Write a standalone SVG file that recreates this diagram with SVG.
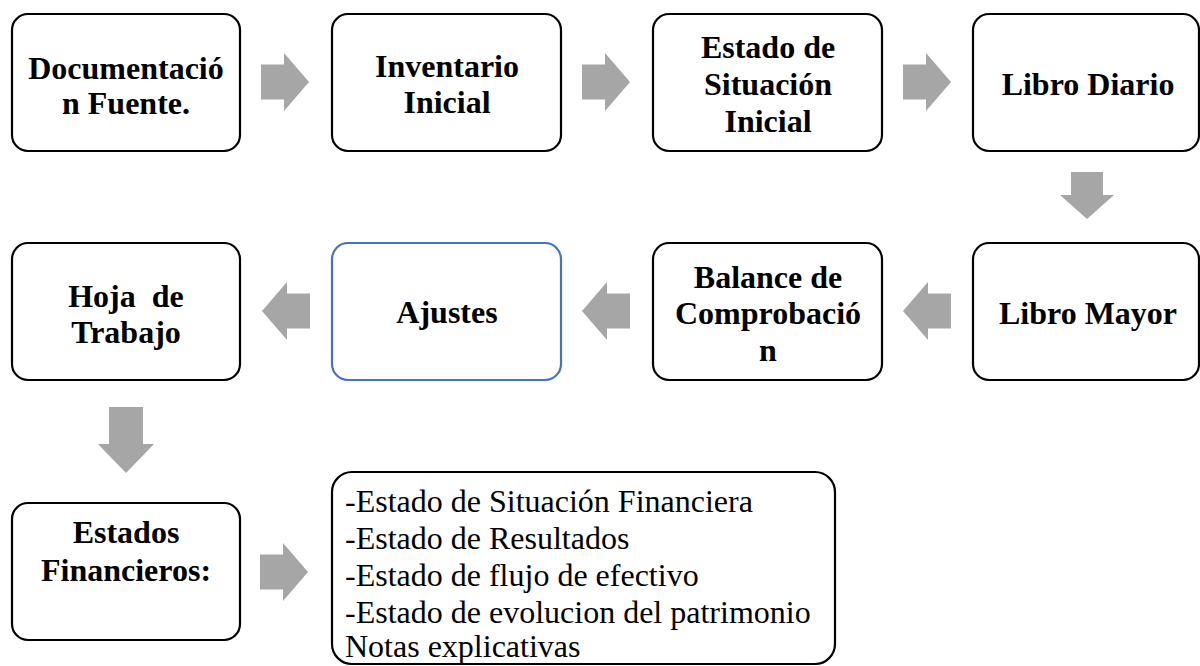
<svg xmlns="http://www.w3.org/2000/svg" width="1200" height="666" viewBox="0 0 1200 666">
<style>
.box{fill:#fff;stroke:#000;stroke-width:2.2}
.blue{fill:#fff;stroke:#4472c4;stroke-width:2.2}
.t{font-family:"Liberation Serif","Times New Roman",serif;font-weight:bold;font-size:32px;text-anchor:middle;fill:#000}
.l{font-family:"Liberation Serif","Times New Roman",serif;font-size:32px;fill:#000}
.arr{fill:#a6a6a6}
</style>
<defs>
<path id="ra" d="M-24,-17.5 H-1 V-29 L24,0 L-1,29 V17.5 H-24 Z"/>
</defs>
<rect width="1200" height="666" fill="#fff"/>
<g id="connectors">
<use href="#ra" class="arr" x="285" y="82"/>
<use href="#ra" class="arr" x="606" y="82"/>
<use href="#ra" class="arr" x="927" y="82"/>
<path class="arr" d="M1071,172 H1103 V195 H1114 L1087,219 L1060,195 H1071 Z"/>
<use href="#ra" class="arr" transform="translate(927,311) scale(-1,1)"/>
<use href="#ra" class="arr" transform="translate(606,311) scale(-1,1)"/>
<use href="#ra" class="arr" transform="translate(286,311) scale(-1,1)"/>
<path class="arr" d="M109,407 H143 V444 H154 L126,473 L98,444 H109 Z"/>
<use href="#ra" class="arr" x="284" y="572"/>
</g>
<g id="n1"><rect class="box" x="12" y="14" width="228" height="137" rx="16"/>
<text class="t" x="126" y="79">Documentació</text><text class="t" x="126" y="114">n Fuente.</text></g>
<g id="n2"><rect class="box" x="332" y="14" width="229" height="137" rx="16"/>
<text class="t" x="447" y="77">Inventario</text><text class="t" x="447" y="113">Inicial</text></g>
<g id="n3"><rect class="box" x="653" y="14" width="229" height="137" rx="16"/>
<text class="t" x="768" y="58">Estado de</text><text class="t" x="768" y="95">Situación</text><text class="t" x="768" y="132">Inicial</text></g>
<g id="n4"><rect class="box" x="973" y="14" width="226" height="137" rx="16"/>
<text class="t" x="1088" y="95">Libro Diario</text></g>
<g id="n5"><rect class="box" x="973" y="243" width="226" height="137" rx="16"/>
<text class="t" x="1088" y="324">Libro Mayor</text></g>
<g id="n6"><rect class="box" x="653" y="243" width="229" height="137" rx="16"/>
<text class="t" x="768" y="288">Balance de</text><text class="t" x="768" y="324">Comprobació</text><text class="t" x="768" y="361">n</text></g>
<g id="n7"><rect class="blue" x="332" y="243" width="229" height="137" rx="16"/>
<text class="t" x="447" y="323">Ajustes</text></g>
<g id="n8"><rect class="box" x="12" y="243" width="228" height="137" rx="16"/>
<text class="t" x="126" y="307" xml:space="preserve" style="white-space:pre">Hoja  de</text><text class="t" x="126" y="343">Trabajo</text></g>
<g id="n9"><rect class="box" x="12" y="503" width="228" height="137" rx="16"/>
<text class="t" x="126" y="543">Estados</text><text class="t" x="126" y="581">Financieros:</text></g>
<g id="n10"><rect class="box" x="332" y="472" width="503" height="192" rx="20"/>
<text class="l" x="345" y="512">-Estado de Situación Financiera</text>
<text class="l" x="345" y="549">-Estado de Resultados</text>
<text class="l" x="345" y="586">-Estado de flujo de efectivo</text>
<text class="l" x="345" y="623">-Estado de evolucion del patrimonio</text>
<text class="l" x="345" y="657">Notas explicativas</text></g>
</svg>
